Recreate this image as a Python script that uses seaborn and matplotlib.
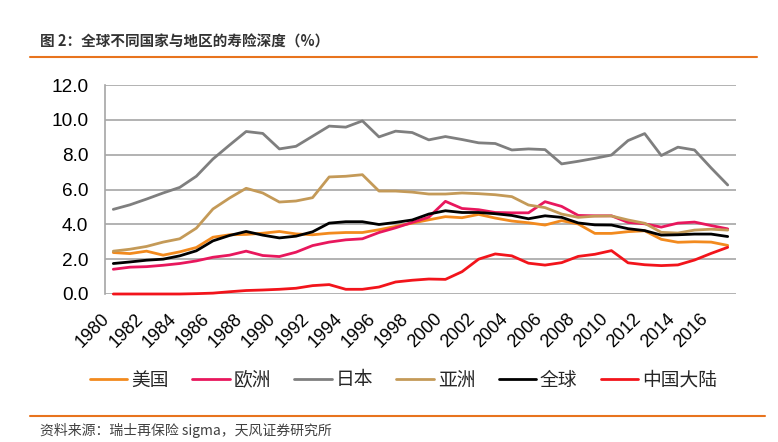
import matplotlib
matplotlib.use("Agg")
import matplotlib.pyplot as plt
from matplotlib.lines import Line2D
import seaborn as sns
import pandas as pd

years = list(range(1980, 2018))

usa = [2.38, 2.32, 2.46, 2.23, 2.42, 2.67, 3.26, 3.40, 3.42, 3.49,
       3.59, 3.45, 3.40, 3.49, 3.53, 3.53, 3.69, 3.88, 4.07, 4.26,
       4.44, 4.38, 4.57, 4.36, 4.19, 4.09, 3.96, 4.21, 4.02, 3.48,
       3.48, 3.58, 3.63, 3.14, 2.97, 3.00, 2.98, 2.79]
europe = [1.42, 1.54, 1.57, 1.65, 1.75, 1.90, 2.11, 2.23, 2.46, 2.21,
          2.15, 2.40, 2.78, 2.98, 3.11, 3.17, 3.53, 3.80, 4.11, 4.41,
          5.32, 4.91, 4.84, 4.68, 4.66, 4.66, 5.30, 5.03, 4.51, 4.49,
          4.49, 4.11, 4.03, 3.84, 4.07, 4.13, 3.93, 3.74]
japan = [4.86, 5.12, 5.45, 5.80, 6.12, 6.76, 7.75, 8.55, 9.33, 9.22,
         8.33, 8.48, 9.06, 9.64, 9.58, 9.94, 9.02, 9.35, 9.27, 8.85,
         9.04, 8.87, 8.68, 8.64, 8.27, 8.33, 8.29, 7.47, 7.62, 7.79,
         7.98, 8.81, 9.21, 7.95, 8.43, 8.27, 7.24, 6.26]
asia = [2.46, 2.57, 2.73, 2.98, 3.17, 3.78, 4.88, 5.51, 6.07, 5.80,
        5.28, 5.34, 5.53, 6.72, 6.76, 6.85, 5.91, 5.91, 5.85, 5.74,
        5.74, 5.80, 5.76, 5.70, 5.59, 5.11, 4.96, 4.59, 4.40, 4.47,
        4.48, 4.25, 4.06, 3.54, 3.50, 3.67, 3.72, 3.67]
world = [1.75, 1.84, 1.94, 2.00, 2.19, 2.48, 3.05, 3.36, 3.59, 3.38,
         3.22, 3.32, 3.57, 4.07, 4.15, 4.15, 3.99, 4.11, 4.25, 4.59,
         4.78, 4.68, 4.68, 4.61, 4.51, 4.32, 4.49, 4.40, 4.08, 3.97,
         3.96, 3.75, 3.64, 3.38, 3.40, 3.44, 3.44, 3.30]
china = [0.00, 0.00, 0.00, 0.00, 0.00, 0.02, 0.05, 0.13, 0.20, 0.23,
         0.27, 0.33, 0.48, 0.54, 0.27, 0.27, 0.40, 0.69, 0.79, 0.86,
         0.84, 1.28, 2.00, 2.30, 2.19, 1.77, 1.66, 1.80, 2.16, 2.28,
         2.49, 1.79, 1.68, 1.63, 1.67, 1.95, 2.33, 2.68]

series_names = ["美国", "欧洲", "日本", "亚洲", "全球", "中国大陆"]
series_values = [usa, europe, japan, asia, world, china]
colors = ["#F28A1E", "#E8175D", "#7F7F7F", "#C49A58", "#000000", "#F2141B"]

title = "图 2：全球不同国家与地区的寿险深度（%）"
source = "资料来源：瑞士再保险 sigma，天风证券研究所"
yticks = [0, 2, 4, 6, 8, 10, 12]
xticks = list(range(1980, 2017, 2))

rows = []
for name, vals in zip(series_names, series_values):
    for y, v in zip(years, vals):
        rows.append({"year": y, "value": v, "series": name})
df = pd.DataFrame(rows)

sns.set_theme(style="white")
cjk = ["Noto Sans CJK SC", "DejaVu Sans"]
plt.rcParams["font.family"] = cjk

W, H = 778, 442
fig = plt.figure(figsize=(W / 100, H / 100), dpi=100)
fig.patch.set_facecolor("white")
ax = fig.add_axes([105 / W, 1 - 294 / H, (736 - 105) / W, (294 - 85) / H])

sns.lineplot(data=df, x="year", y="value", hue="series", hue_order=series_names,
             palette=dict(zip(series_names, colors)), linewidth=2.0, ax=ax,
             legend=True)
handles, labels = ax.get_legend_handles_labels()
ax.get_legend().remove()
for ln in ax.get_lines():
    ln.set_clip_on(False)
    ln.set_solid_joinstyle("round")

ax.set_xlim(1979.5, 2017.5)
ax.set_ylim(0, 12)
ax.set_yticks(yticks)
ax.set_yticklabels([f"{v:.1f}" for v in yticks], fontfamily="Liberation Sans",
                   fontsize=13.7, color="#000000")
ax.set_xticks(xticks)
ax.set_xticklabels([str(y) for y in xticks], rotation=45, ha="right",
                   fontfamily="Liberation Sans", fontsize=13, color="#000000")
ax.tick_params(axis="both", length=0)
ax.tick_params(axis="y", pad=12)
ax.tick_params(axis="x", pad=12)
ax.set_xlabel("")
ax.set_ylabel("")
ax.grid(axis="y", color="#A6A6A6", linewidth=1.2)
ax.grid(axis="x", visible=False)
ax.set_axisbelow(True)
for s in ["top", "right", "bottom"]:
    ax.spines[s].set_visible(False)
ax.spines["left"].set_color("#A6A6A6")
ax.spines["left"].set_linewidth(1.2)

fig.legend(handles, labels, loc="center", bbox_to_anchor=(403.5 / W, 1 - 380 / H),
           ncol=6, frameon=False, handlelength=2.0,
           handletextpad=0.2, columnspacing=1.25, borderaxespad=0,
           prop={"family": cjk, "size": 13.5})

fig.text(40 / W, 1 - 41.5 / H, title, fontsize=10.5, fontweight="bold",
         color="#333333", va="center", ha="left", family=cjk)
fig.add_artist(Line2D([30 / W, 757 / W], [1 - 57 / H] * 2, color="#E8741E", lw=1.5))
fig.add_artist(Line2D([30 / W, 765 / W], [1 - 415.7 / H] * 2, color="#E8741E", lw=1.5))
fig.text(40 / W, 1 - 430 / H, source, fontsize=10, color="#404040",
         va="center", ha="left", family=cjk)

fig.savefig("out.png", dpi=100, facecolor="white")
